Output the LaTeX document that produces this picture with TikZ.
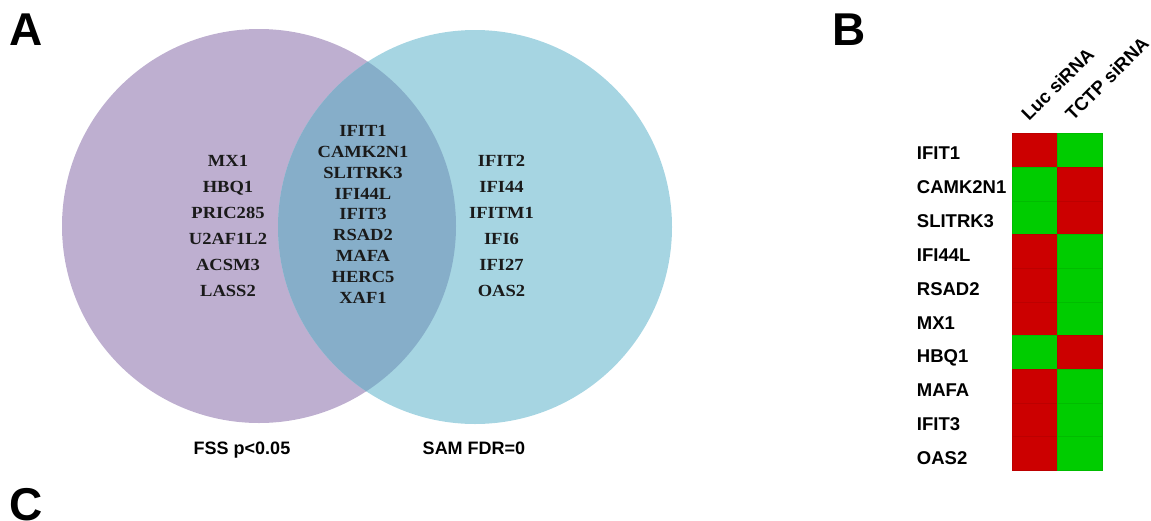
\documentclass[tikz,border=0pt]{standalone}
\usepackage{fontspec}
\setmainfont{Liberation Sans}
\newfontfamily\vennfont{Liberation Serif}
\definecolor{vpurple}{HTML}{BEAFD0}
\definecolor{vblue}{HTML}{A6D5E2}
\definecolor{vover}{HTML}{86AEC9}
\definecolor{hred}{HTML}{CC0000}
\definecolor{hgreen}{HTML}{00CC00}
\definecolor{gtext}{HTML}{1A1A1A}
\begin{document}
\begin{tikzpicture}[x=1pt,y=-1pt,
  panel/.style={font=\fontsize{46}{46}\selectfont\bfseries, inner sep=0, anchor=base west},
  gene/.style={font=\vennfont\fontsize{17}{17}\selectfont\bfseries, text=gtext, inner sep=0, anchor=base, xscale=1.09},
  vlab/.style={font=\fontsize{18}{18}\selectfont\bfseries, inner sep=0, anchor=base},
  rowlab/.style={font=\fontsize{18.5}{18.5}\selectfont\bfseries, inner sep=0, anchor=base west},
  collab/.style={font=\fontsize{18.5}{18.5}\selectfont\bfseries, inner sep=0, anchor=base west, rotate=45},
  cell/.style={minimum width=45pt, minimum height=33.67pt, inner sep=0, outer sep=0},
  setcircle/.style={circle, minimum size=394pt, inner sep=0, outer sep=0}
]
\useasboundingbox (0,0) rectangle (1151,520);
% Venn diagram
\node[setcircle, fill=vpurple] (setA) at (259,226) {};
\node[setcircle, fill=vblue] (setB) at (475,227) {};
\begin{scope}
  \clip (259,226) circle[radius=197];
  \fill[vover] (475,227) circle[radius=197];
\end{scope}
\foreach \g [count=\i from 0] in {MX1,HBQ1,PRIC285,U2AF1L2,ACSM3,LASS2}
  \node[gene] (left\i) at (228,166+26*\i) {\g};
\foreach \g [count=\i from 0] in {IFIT1,CAMK2N1,SLITRK3,IFI44L,IFIT3,RSAD2,MAFA,HERC5,XAF1}
  \node[gene] (mid\i) at (363,136.7+20.8*\i) {\g};
\foreach \g [count=\i from 0] in {IFIT2,IFI44,IFITM1,IFI6,IFI27,OAS2}
  \node[gene] (right\i) at (501.5,166+26*\i) {\g};
\node[vlab] (fss) at (242,454) {FSS p<0.05};
\node[vlab] (sam) at (474,454) {SAM FDR=0};
% panel letters
\node[panel] (pA) at (9,45) {A};
\node[panel] (pB) at (832,45) {B};
\node[panel] (pC) at (9,520) {C};
% heatmap
\foreach \g/\a/\b [count=\i from 0] in {IFIT1/hred/hgreen,CAMK2N1/hgreen/hred,SLITRK3/hgreen/hred,IFI44L/hred/hgreen,RSAD2/hred/hgreen,MX1/hred/hgreen,HBQ1/hgreen/hred,MAFA/hred/hgreen,IFIT3/hred/hgreen,OAS2/hred/hgreen}
{
  \node[cell, fill=\a, draw=\a!92!black, line width=0.4pt] (luc\i) at (1034.2,150.2+33.67*\i) {};
  \node[cell, fill=\b, draw=\b!92!black, line width=0.4pt] (tctp\i) at (1079.2,150.2+33.67*\i) {};
  \node[rowlab] (row\i) at (916.7,159.5+33.9*\i) {\g};
}
\node[collab] (colLuc) at (1029,122) {Luc siRNA};
\node[collab] (colTCTP) at (1073,122) {TCTP siRNA};
\end{tikzpicture}
\end{document}
